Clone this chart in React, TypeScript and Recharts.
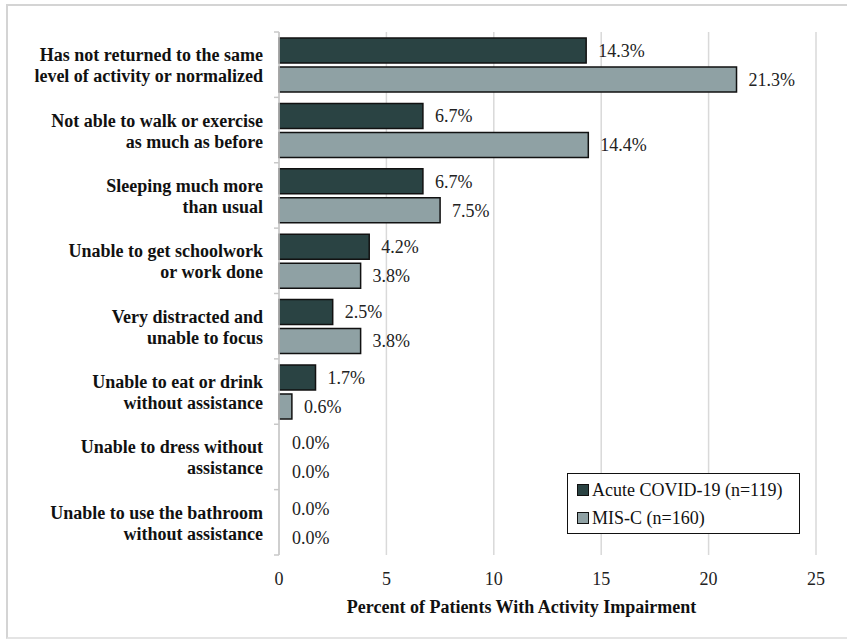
import React from 'react'
import {
  BarChart, Bar, XAxis, YAxis, CartesianGrid, LabelList, Legend, Cell
} from 'recharts'

const categories = [
  'Has not returned to the same\nlevel of activity or normalized',
  'Not able to walk or exercise\nas much as before',
  'Sleeping much more\nthan usual',
  'Unable to get schoolwork\nor work done',
  'Very distracted and\nunable to focus',
  'Unable to eat or drink\nwithout assistance',
  'Unable to dress without\nassistance',
  'Unable to use the bathroom\nwithout assistance',
]
const acuteCovid = [14.3, 6.7, 6.7, 4.2, 2.5, 1.7, 0.0, 0.0]
const misC = [21.3, 14.4, 7.5, 3.8, 3.8, 0.6, 0.0, 0.0]
const xTicks = [0, 5, 10, 15, 20, 25]

const seriesNames = ['Acute COVID-19 (n=119)', 'MIS-C (n=160)']
const DARK = '#2a4343'
const LIGHT = '#8fa1a4'
const FONT = 'Liberation Serif, Tinos, DejaVu Serif, serif'

const data = categories.map((name, i) => ({
  name,
  acute: acuteCovid[i],
  misc: misC[i],
}))

const W = 847
const H = 642
const margin = { top: 32, right: 31, bottom: 27, left: 0 }
const X_AXIS_H = 60
const Y_AXIS_W = 279
const band = (H - margin.top - margin.bottom - X_AXIS_H) / categories.length

const pct = (v: any) => `${Number(v).toFixed(1)}%`

// two-line bold category label plus the small boundary ticks on the axis
const CategoryTick = (props: any) => {
  const { x, y, payload, index } = props
  const lines = String(payload.value).split('\n')
  const axisX = x + 16
  return (
    <g>
      <line x1={axisX - 5} x2={axisX} y1={y - band / 2} y2={y - band / 2} stroke="#c8c8c8" strokeWidth={1.5} />
      {index === categories.length - 1 && (
        <line x1={axisX - 5} x2={axisX} y1={y + band / 2} y2={y + band / 2} stroke="#c8c8c8" strokeWidth={1.5} />
      )}
      <text
        x={x}
        y={y}
        textAnchor="end"
        fontFamily={FONT}
        fontWeight="bold"
        fontSize={18}
        fill="#111"
      >
        {lines.map((l, i) => (
          <tspan key={i} x={x} dy={i === 0 ? -3.5 : 21}>{l}</tspan>
        ))}
      </text>
    </g>
  )
}

const LegendBox = () => (
  <div
    style={{
      border: '1.5px solid #111',
      background: '#fff',
      padding: '2px 0 0 9px',
      fontFamily: FONT,
      fontSize: 18,
      color: '#111',
      boxSizing: 'border-box',
      width: 233,
      height: 61,
    }}
  >
    {seriesNames.map((n, i) => (
      <div key={n} style={{ display: 'flex', alignItems: 'center', height: 28 }}>
        <span
          style={{
            display: 'inline-block',
            width: 10,
            height: 10,
            background: i === 0 ? DARK : LIGHT,
            border: '1px solid #111',
            marginRight: 3,
          }}
        />
        {n}
      </div>
    ))}
  </div>
)

export default function App() {
  return (
    <div style={{ position: 'absolute', left: 0, top: 0, width: W, height: H, background: '#fff' }}>
      <div
        style={{
          position: 'absolute',
          left: 6,
          top: 4,
          width: W,
          height: 635,
          borderTop: '2px solid #d4d4d4',
          borderLeft: '2px solid #d4d4d4',
          borderBottom: '2px solid #e4e4e4',
          boxSizing: 'border-box',
        }}
      />
      <BarChart
        width={W}
        height={H}
        data={data}
        layout="vertical"
        margin={margin}
        barSize={25}
        barGap={4}
      >
        <CartesianGrid horizontal={false} stroke="#d9d9d9" strokeWidth={1.5} />
        <XAxis
          type="number"
          domain={[0, 25]}
          ticks={xTicks}
          height={X_AXIS_H}
          axisLine={false}
          tickLine={false}
          tickSize={0}
          tickMargin={17}
          tick={{ fontFamily: FONT, fontSize: 18, fill: '#222' }}
          label={{
            value: 'Percent of Patients With Activity Impairment',
            position: 'insideBottom',
            offset: 2,
            dx: -26,
            style: { fontFamily: FONT, fontWeight: 'bold', fontSize: 18, fill: '#111' },
          }}
        />
        <YAxis
          type="category"
          dataKey="name"
          width={Y_AXIS_W}
          axisLine={{ stroke: '#c8c8c8', strokeWidth: 1.5 }}
          tickLine={false}
          tickSize={0}
          tickMargin={16}
          interval={0}
          tick={<CategoryTick />}
        />
        <Legend
          layout="vertical"
          align="center"
          verticalAlign="middle"
          content={<LegendBox />}
          wrapperStyle={{ left: 567, top: 473, width: 233, height: 61 }}
        />
        <Bar dataKey="acute" name={seriesNames[0]} fill={DARK} stroke="#111" strokeWidth={1.5} minPointSize={1} isAnimationActive={false}>
          {acuteCovid.map((v, i) => (
            <Cell key={i} fill={v === 0 ? 'transparent' : DARK} stroke={v === 0 ? 'none' : '#111'} />
          ))}
          <LabelList
            dataKey="acute"
            position="right"
            offset={12}
            formatter={pct}
            style={{ fontFamily: FONT, fontSize: 18, fill: '#222' }}
          />
        </Bar>
        <Bar dataKey="misc" name={seriesNames[1]} fill={LIGHT} stroke="#111" strokeWidth={1.5} minPointSize={1} isAnimationActive={false}>
          {misC.map((v, i) => (
            <Cell key={i} fill={v === 0 ? 'transparent' : LIGHT} stroke={v === 0 ? 'none' : '#111'} />
          ))}
          <LabelList
            dataKey="misc"
            position="right"
            offset={12}
            formatter={pct}
            style={{ fontFamily: FONT, fontSize: 18, fill: '#222' }}
          />
        </Bar>
      </BarChart>
    </div>
  )
}
